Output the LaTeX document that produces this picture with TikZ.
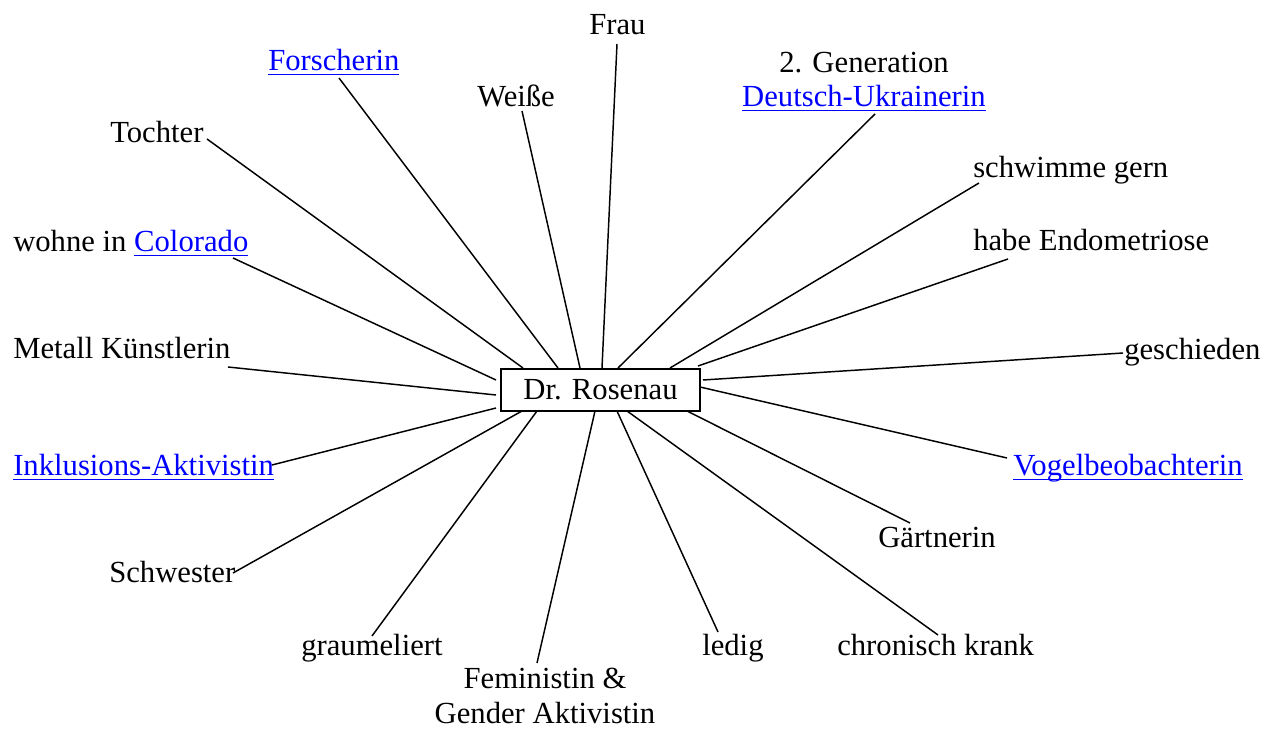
\documentclass[tikz,border=0pt]{standalone}
\usepackage{fontspec}
\setmainfont{Liberation Serif}
\definecolor{linkblue}{RGB}{0,0,255}
\newcommand\lnk[1]{{\color{linkblue}\setbox0\hbox{#1}\rlap{\rule[-3.3pt]{\wd0}{1.2pt}}\box0}}
\begin{document}
\begin{tikzpicture}[x=0.75pt,y=-0.75pt,
  lbl/.style={anchor=base west,inner sep=0pt,font=\fontsize{23}{26}\selectfont},
  clbl/.style={anchor=base,inner sep=0pt,align=center,font=\fontsize{23}{26}\selectfont},
  conn/.style={line width=1.1pt},
  hub/.style={draw,line width=1.6pt,minimum width=149.25pt,minimum height=31.5pt,inner sep=0pt,font=\fontsize{23}{26}\selectfont}]
\useasboundingbox (0,0) rectangle (1271,730);

\node[hub] (box) at (600.5,390) {Dr. Rosenau};

\node[lbl] (frau) at (589,35) {Frau};
\node[lbl] (forsch) at (268,71) {\lnk{Forscherin}};
\node[lbl] (weisse) at (477,107) {Weiße};
\node[clbl] (ukr) at (864,107) {2. Generation\\\lnk{Deutsch-Ukrainerin}};
\node[lbl] (tochter) at (110,143) {Tochter};
\node[lbl] (schwimm) at (973,178) {schwimme gern};
\node[lbl] (endo) at (973,251) {habe Endometriose};
\node[lbl] (colo) at (13,252) {wohne in \lnk{Colorado}};
\node[lbl] (metall) at (13,359) {Metall Künstlerin};
\node[lbl] (gesch) at (1124,360) {geschieden};
\node[lbl] (inkl) at (13,476) {\lnk{Inklusions-Aktivistin}};
\node[lbl] (vogel) at (1013,476) {\lnk{Vogelbeobachterin}};
\node[lbl] (gaert) at (878,548) {Gärtnerin};
\node[lbl] (schw) at (109,583) {Schwester};
\node[lbl] (grau) at (301,655) {graumeliert};
\node[lbl] (ledig) at (702,655) {ledig};
\node[lbl] (chron) at (837,655) {chronisch krank};
\node[clbl] (femin) at (545,723) {Feministin \&\\Gender Aktivistin};

\foreach \n/\lx/\ly/\bx/\by in {
  frau/617/44/602/368, forsch/339/78/558/368, weisse/522/111/580/368,
  ukr/875/114/618/368, tochter/207/139/523/368, schwimm/979/183/670/368,
  endo/1008/259/698/366, colo/233/258/496/380, metall/228/367/496/395,
  gesch/1123/353/703/380, inkl/272/465/496/408, vogel/1007/458/700/387,
  gaert/910/523/687/411, schw/233/573/522/411, grau/372/636/537/411,
  femin/537/663/595/411, ledig/718/632/617/411, chron/938/635/627/411}{
  \coordinate (\n-end) at (\lx,\ly);
  \coordinate (\n-hub) at (\bx,\by);
  \draw[conn] (\n-end) -- (\n-hub);
}
\end{tikzpicture}
\end{document}
